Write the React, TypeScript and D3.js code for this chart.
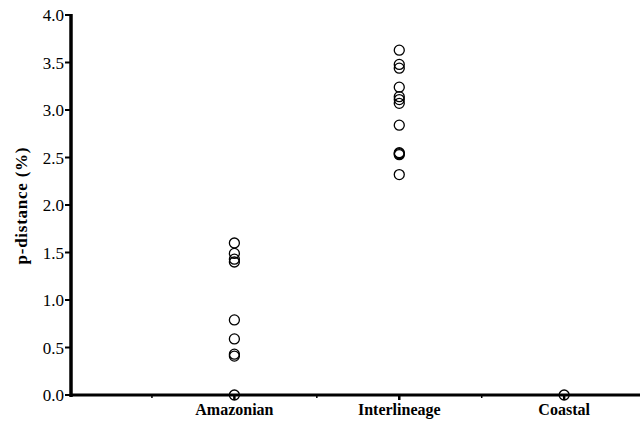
import React, { useEffect, useRef } from "react";
import * as d3 from "d3";

// categories on the x axis (placed at 1, 2, 3)
const categories = ["Amazonian", "Interlineage", "Coastal"];

// pairwise p-distances (%)
const amazonian = [1.6, 1.49, 1.43, 1.4, 0.79, 0.59, 0.43, 0.41, 0.0];
const interlineage = [3.63, 3.48, 3.44, 3.24, 3.14, 3.11, 3.07, 2.84, 2.55, 2.54, 2.53, 2.32];
const coastal = [0.0];

const yTicks = [0, 0.5, 1, 1.5, 2, 2.5, 3, 3.5, 4];
const xMinorTicks = [0.5, 1.5, 2.5];

const App = () => {
  const ref = useRef<SVGSVGElement>(null);

  useEffect(() => {
    const svg = d3.select(ref.current);
    svg.selectAll("*").remove();

    const x = d3.scaleLinear().domain([0, 3.46]).range([69.5, 640]);
    const y = d3.scaleLinear().domain([0, 4]).range([395, 15]);

    // y axis
    const yAxis = svg.append("g").attr("transform", "translate(71,0)");
    yAxis.append("line")
      .attr("x1", 0).attr("x2", 0)
      .attr("y1", y(4) - 1).attr("y2", y(0) + 2)
      .attr("stroke", "#000").attr("stroke-width", 3.5);
    yTicks.forEach((t) => {
      yAxis.append("line")
        .attr("x1", -6).attr("x2", 0)
        .attr("y1", y(t)).attr("y2", y(t))
        .attr("stroke", "#000").attr("stroke-width", 2);
      yAxis.append("text")
        .attr("x", -7)
        .attr("y", y(t) + 6)
        .attr("text-anchor", "end")
        .style("font-family", "Liberation Serif, serif")
        .style("font-size", "17px")
        .text(d3.format(".1f")(t));
    });

    // x axis
    const xAxis = svg.append("g").attr("transform", `translate(0,${y(0)})`);
    xAxis.append("line")
      .attr("x1", 70).attr("x2", 640)
      .attr("y1", 0).attr("y2", 0)
      .attr("stroke", "#000").attr("stroke-width", 3);
    xMinorTicks.forEach((t) => {
      xAxis.append("line")
        .attr("x1", x(t)).attr("x2", x(t))
        .attr("y1", 0).attr("y2", 3)
        .attr("stroke", "#000").attr("stroke-width", 1.5);
    });
    categories.forEach((c, i) => {
      xAxis.append("line")
        .attr("x1", x(i + 1)).attr("x2", x(i + 1))
        .attr("y1", 0).attr("y2", 5)
        .attr("stroke", "#000").attr("stroke-width", 2.5);
      xAxis.append("text")
        .attr("x", x(i + 1))
        .attr("y", 20)
        .attr("text-anchor", "middle")
        .style("font-family", "Liberation Serif, serif")
        .style("font-size", "16px")
        .style("font-weight", "bold")
        .text(c);
    });

    // y title
    svg.append("text")
      .attr("transform", `translate(27,${y(2) + 1}) rotate(-90)`)
      .attr("text-anchor", "middle")
      .style("font-family", "Liberation Serif, serif")
      .style("font-size", "17px")
      .style("font-weight", "bold")
      .attr("textLength", 117)
      .text("p-distance (%)");

    // points
    const series = [amazonian, interlineage, coastal];
    series.forEach((vals, i) => {
      svg.append("g")
        .selectAll("circle")
        .data(vals)
        .enter()
        .append("circle")
        .attr("cx", x(i + 1))
        .attr("cy", (d) => y(d))
        .attr("r", 5)
        .attr("fill", "none")
        .attr("stroke", "#000")
        .attr("stroke-width", 1.3);
    });
  }, []);

  return (
    <svg
      ref={ref}
      width={642}
      height={422}
      style={{ position: "absolute", left: 0, top: 0, background: "#fff" }}
    />
  );
};

export default App;
